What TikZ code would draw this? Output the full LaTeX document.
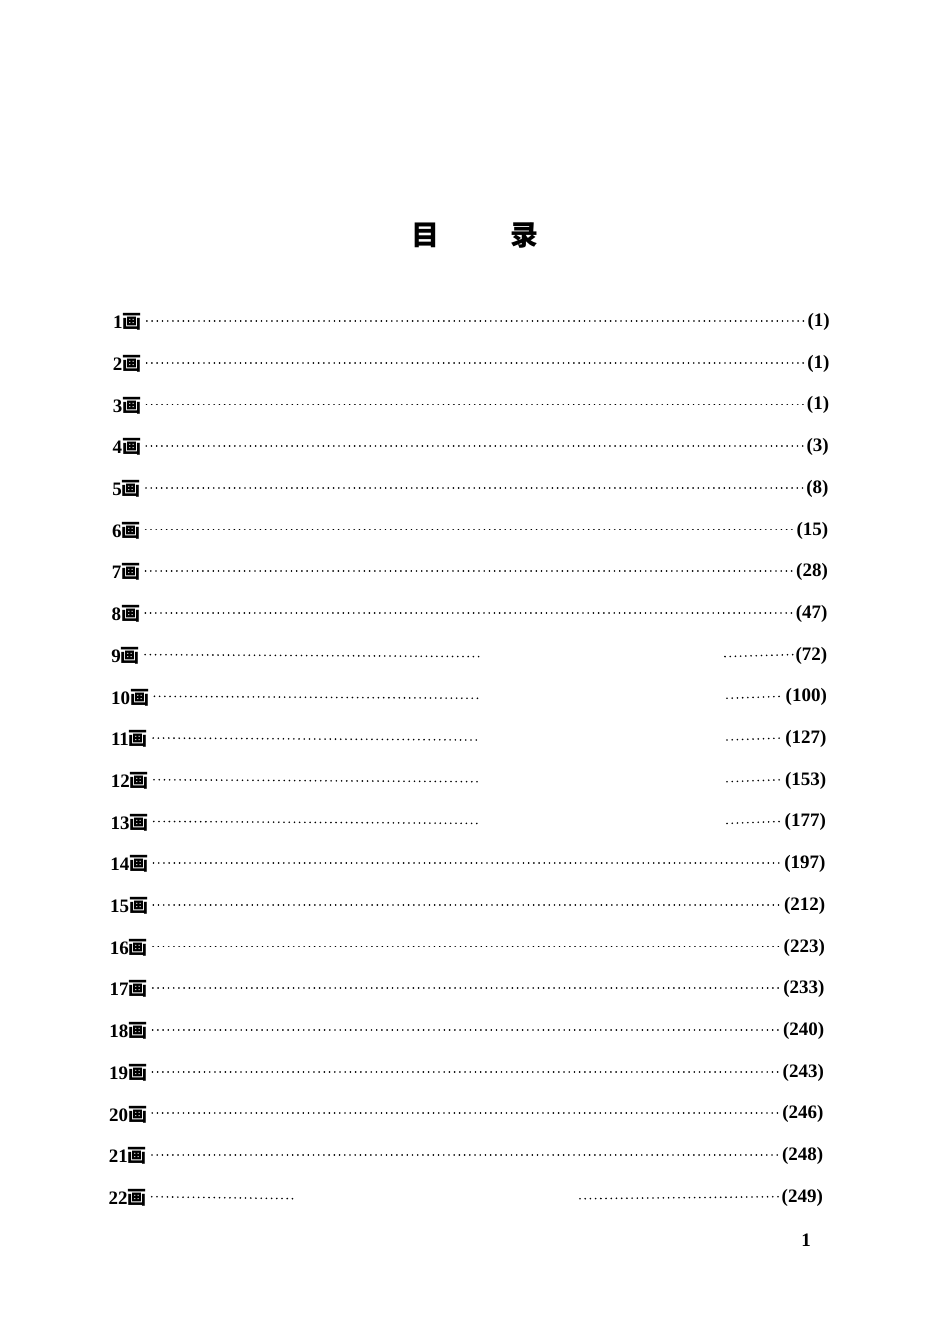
\documentclass[tikz,border=0pt]{standalone}
\usepackage{fontspec}
\setmainfont{Liberation Serif}
\newfontfamily\cjk{Noto Sans CJK SC}
\begin{document}
\begin{tikzpicture}[x=1pt,y=-1pt,
  lab/.style={anchor=west,inner sep=0pt,font=\fontsize{19}{19}\selectfont\bfseries},
  pg/.style={anchor=east,inner sep=0pt,font=\fontsize{19}{19}\selectfont\bfseries},
  lead/.style={line width=1.8pt,dash pattern=on 0.01pt off 5.2pt,line cap=round}]
\useasboundingbox (0,0) rectangle (950,1344);
\node (title) at (475,235) {\cjk\bfseries\fontsize{28}{28}\selectfont 目\hspace{72pt}录};
\foreach \i/\n/\p/\ga/\gb in {1/1/(1)/0/0,2/2/(1)/0/0,3/3/(1)/0/0,4/4/(3)/0/0,5/5/(8)/0/0,6/6/(15)/0/0,7/7/(28)/0/0,8/8/(47)/0/0,9/9/(72)/483/725,10/10/(100)/478/727,11/11/(127)/478/727,12/12/(153)/478/727,13/13/(177)/478/727,14/14/(197)/0/0,15/15/(212)/0/0,16/16/(223)/0/0,17/17/(233)/0/0,18/18/(240)/0/0,19/19/(243)/0/0,20/20/(246)/0/0,21/21/(248)/0/0,22/22/(249)/295/580}{
  \pgfmathsetmacro\yy{322+(\i-1)*41.7}
  \pgfmathsetmacro\xl{113-(\i-1)*0.22}
  \pgfmathsetmacro\xr{830-(\i-1)*0.33}
  \node[lab] (l\i) at (\xl,\yy) {\n{\cjk 画}};
  \node[pg] (p\i) at (\xr,\yy) {\p};
  \ifnum\ga=0
    \draw[lead] ([xshift=5pt,yshift=1pt]l\i.east) -- ([xshift=-2pt,yshift=1pt]p\i.west);
  \else
    \coordinate (a\i) at (\ga,\yy+1);
    \coordinate (b\i) at (\gb,\yy+1);
    \draw[lead] ([xshift=5pt,yshift=1pt]l\i.east) -- (a\i);
    \draw[lead] (b\i) -- ([xshift=-2pt,yshift=1pt]p\i.west);
  \fi
}
\node[font=\fontsize{19}{19}\selectfont\bfseries] (folio) at (806,1240) {1};
\end{tikzpicture}
\end{document}
